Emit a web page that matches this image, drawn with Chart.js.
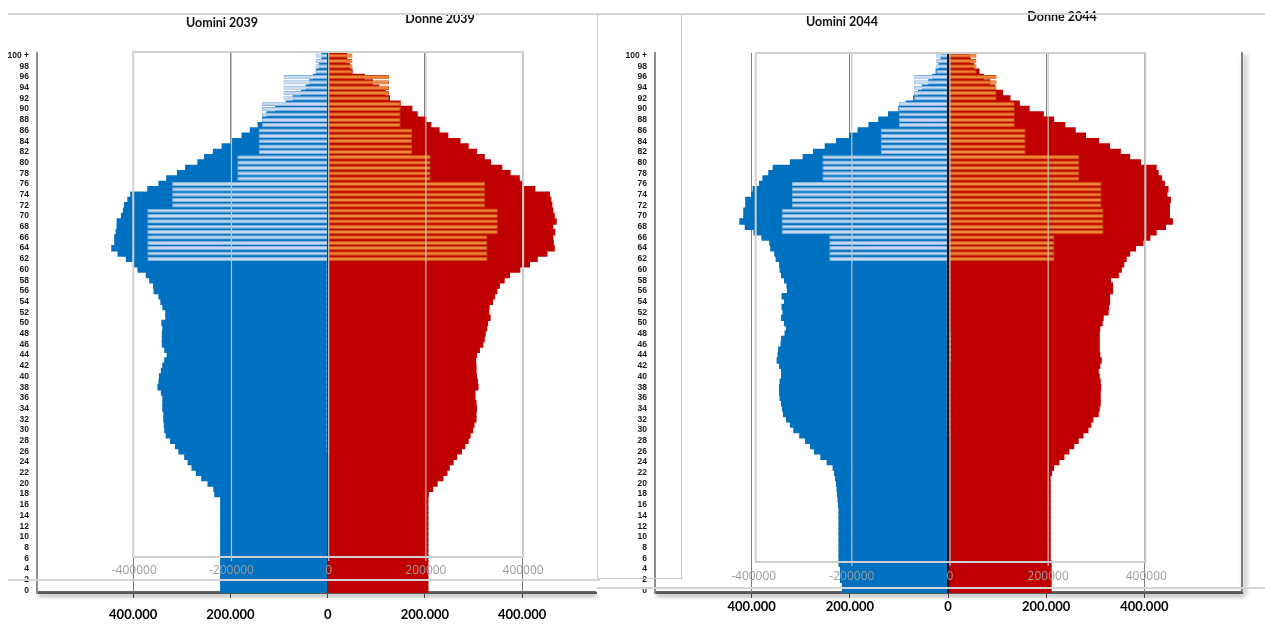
<!DOCTYPE html>
<html><head><meta charset="utf-8">
<script src="https://cdn.jsdelivr.net/npm/chart.js@4.4.1/dist/chart.umd.min.js"></script>
<style>
html,body{margin:0;padding:0;background:#fff;width:1265px;height:632px;overflow:hidden;position:relative}
.cv{position:absolute;top:0;height:632px;z-index:2}
.ln{position:absolute;background:#d4d4d4;z-index:5}
.ttl{position:absolute;font-family:Lato,'Open Sans',sans-serif;font-weight:700;font-size:12.5px;color:#111;transform:translate(-50%,-50%);white-space:nowrap;z-index:4}
.sh{position:absolute;z-index:1}
</style></head><body>
<div class="sh" style="left:37px;top:591px;width:559px;height:2px;background:#666;box-shadow:1px 3px 4px rgba(0,0,0,.55)"></div>
<div class="sh" style="left:655px;top:591px;width:588px;height:2px;background:#666;box-shadow:1px 3px 4px rgba(0,0,0,.55)"></div>
<div class="sh" style="left:1241px;top:52px;width:2px;height:541px;background:#808080;box-shadow:3px 2px 5px rgba(0,0,0,.45)"></div>
<div class="cv" style="left:0;width:597px"><canvas id="c1"></canvas></div>
<div class="cv" style="left:600px;width:665px"><canvas id="c2"></canvas></div>
<div class="ln" style="left:8px;top:13px;width:589px;height:2px"></div>
<div class="ln" style="left:597px;top:13px;width:668px;height:2px"></div>
<div class="ln" style="left:597px;top:14px;width:83px;height:564px;background:transparent;border:1.5px solid #c8c8c8;border-top:none"></div>
<div class="ln" style="left:8px;top:579px;width:592px;height:2px"></div>
<div class="ln" style="left:597px;top:587px;width:668px;height:2px"></div>
<div class="ttl" style="left:222px;top:22px">Uomini 2039</div>
<div class="ttl" style="left:440px;top:18px">Donne 2039</div>
<div class="ttl" style="left:842px;top:21px">Uomini 2044</div>
<div class="ttl" style="left:1062px;top:16px">Donne 2044</div>
<script>
const ages = ['0','1','2','3','4','5','6','7','8','9','10','11','12','13','14','15','16','17','18','19',
'20','21','22','23','24','25','26','27','28','29','30','31','32','33','34','35','36','37','38','39',
'40','41','42','43','44','45','46','47','48','49','50','51','52','53','54','55','56','57','58','59',
'60','61','62','63','64','65','66','67','68','69','70','71','72','73','74','75','76','77','78','79',
'80','81','82','83','84','85','86','87','88','89','90','91','92','93','94','95','96','97','98','99','100 +'];

const xTickValues = [-400000,-200000,0,200000,400000];
const ovTickLabels = ['-400000','-200000','0','200000','400000'];

// 2039
const uomini2039 = [
220000,220000,220000,220000,220000,220000,220000,220000,220000,220000,
220000,220000,220000,220000,220000,220000,220000,220000,232000,234000,
246000,259000,270000,279000,287000,294000,306000,313000,323000,332000,
335000,336000,337000,337000,339000,339000,339000,342000,349000,347000,
346000,342000,339000,335000,330000,335000,340000,340000,340000,339000,
341000,333000,333000,339000,343000,347000,357000,358000,366000,373000,
390000,398000,414000,431000,444000,438000,438000,435000,433000,433000,
424000,420000,418000,411000,405000,370000,347000,331000,309000,292000,
267000,253000,235000,217000,197000,176000,159000,143000,134000,125000,
107000,85000,71000,54000,44000,37000,29000,23000,17000,10000,
12000];
const donne2039 = [
206000,206000,206000,206000,206000,206000,206000,206000,206000,206000,
206000,206000,206000,206000,206000,206000,206000,206000,207000,216000,
225000,237000,245000,250000,258000,265000,275000,282000,289000,293000,
298000,301000,305000,305000,306000,305000,303000,303000,309000,308000,
306000,305000,305000,304000,306000,312000,319000,322000,324000,327000,
329000,334000,331000,332000,339000,343000,348000,353000,363000,374000,
395000,415000,431000,451000,466000,464000,463000,467000,463000,470000,
466000,463000,461000,459000,456000,426000,401000,394000,375000,358000,
335000,322000,306000,289000,272000,247000,229000,212000,202000,184000,
173000,149000,127000,118000,105000,92000,75000,50000,45000,38000,
39000];
const uominiConfronto2039 = [
0,0,0,0,0,0,0,0,0,0,
0,0,0,0,0,0,0,0,0,0,
0,0,0,0,0,0,3000,3000,3000,3000,
3000,3000,3000,3000,3000,3000,3000,3000,3000,3000,
3000,3000,3000,3000,3000,3000,3000,3000,3000,3000,
3000,3000,3000,3000,3000,3000,3000,3000,3000,3000,
3000,3000,371000,371000,371000,371000,371000,371000,371000,371000,
371000,371000,320000,320000,320000,320000,320000,186000,186000,186000,
186000,186000,142000,142000,142000,142000,142000,135000,135000,135000,
135000,135000,91000,91000,91000,91000,91000,25000,25000,25000,
25000];
const donneConfronto2039 = [
0,0,0,0,0,0,0,0,0,0,
0,0,0,0,0,0,0,0,0,0,
0,0,0,0,0,0,4000,4000,4000,4000,
4000,4000,4000,4000,4000,4000,4000,4000,4000,4000,
4000,4000,4000,4000,4000,4000,4000,4000,4000,4000,
4000,4000,4000,4000,4000,4000,4000,4000,4000,4000,
4000,4000,329000,329000,329000,329000,329000,350000,350000,350000,
350000,350000,324000,324000,324000,324000,324000,212000,212000,212000,
212000,212000,174000,174000,174000,174000,174000,150000,150000,150000,
150000,150000,126000,126000,126000,126000,126000,51000,51000,51000,
51000];

// 2044
const uomini2044 = [
215000,215000,219000,219000,219000,222000,222000,222000,222000,222000,
222000,222000,222000,222000,222000,222000,223000,224000,225000,226000,
227000,229000,231000,234000,246000,259000,272000,280000,290000,302000,
314000,321000,329000,335000,337000,339000,342000,343000,343000,342000,
339000,339000,343000,348000,346000,345000,340000,339000,332000,329000,
333000,339000,336000,338000,333000,338000,327000,328000,333000,339000,
342000,343000,350000,353000,361000,363000,379000,395000,413000,424000,
416000,416000,412000,412000,400000,397000,384000,377000,365000,356000,
321000,295000,274000,250000,227000,200000,183000,161000,141000,121000,
100000,85000,70000,60000,52000,39000,31000,24000,18000,12000,
14000];
const donne2044 = [
210000,210000,210000,210000,210000,210000,208000,208000,208000,208000,
208000,208000,208000,208000,208000,208000,208000,208000,208000,208000,
208000,208000,211000,215000,226000,236000,246000,256000,265000,275000,
285000,291000,295000,306000,308000,310000,310000,310000,311000,310000,
308000,306000,309000,312000,309000,308000,308000,308000,308000,309000,
314000,316000,326000,327000,329000,329000,335000,335000,331000,347000,
353000,358000,363000,370000,382000,397000,411000,424000,443000,457000,
451000,451000,451000,453000,446000,448000,441000,435000,428000,424000,
392000,370000,351000,329000,307000,280000,259000,238000,215000,194000,
165000,145000,126000,111000,95000,85000,72000,63000,52000,45000,
44000];
const uominiConfronto2044 = [
0,0,0,0,0,0,0,0,0,0,
0,0,0,0,0,0,0,0,0,0,
0,0,0,0,0,0,0,0,0,3000,
3000,3000,3000,3000,3000,3000,3000,3000,3000,3000,
3000,3000,3000,3000,3000,3000,3000,3000,3000,3000,
3000,3000,3000,3000,3000,3000,3000,3000,3000,3000,
3000,3000,242000,242000,242000,242000,242000,339000,339000,339000,
339000,339000,318000,318000,318000,318000,318000,256000,256000,256000,
256000,256000,137000,137000,137000,137000,137000,100000,100000,100000,
100000,100000,69000,69000,69000,69000,69000,24000,24000,24000,
24000];
const donneConfronto2044 = [
0,0,0,0,0,0,0,0,0,0,
0,0,0,0,0,0,0,0,0,0,
0,0,0,0,0,0,0,0,0,4000,
4000,4000,4000,4000,4000,4000,4000,4000,4000,4000,
4000,4000,4000,6000,6000,6000,6000,6000,6000,4000,
4000,4000,4000,4000,4000,4000,4000,4000,4000,4000,
4000,4000,217000,217000,217000,217000,217000,317000,317000,317000,
317000,317000,313000,313000,313000,313000,313000,268000,268000,268000,
268000,268000,158000,158000,158000,158000,158000,136000,136000,136000,
136000,136000,99000,99000,99000,99000,99000,58000,58000,58000,
58000];

function fmt(n){ n = Math.abs(n); return n===0 ? '0' : String(n).replace(/\B(?=(\d{3})+(?!\d))/g,'.'); }

const overlayPlugin = {
  id:'overlayBox',
  afterDatasetsDraw(chart, args, o){
    const x = chart.scales.x, ctx = chart.ctx, ca = chart.chartArea;
    ctx.save();
    const z = x.getPixelForValue(0);
    ctx.strokeStyle = o.zeroColor; ctx.lineWidth = o.zeroWidth;
    ctx.beginPath(); ctx.moveTo(z, ca.top); ctx.lineTo(z, ca.bottom); ctx.stroke();
    const L = x.getPixelForValue(xTickValues[0]) + o.dxl, R = x.getPixelForValue(xTickValues[4]) + o.dxr;
    ctx.strokeStyle = '#d0d0d0'; ctx.lineWidth = 2;
    ctx.strokeRect(L, o.top, R - L, o.bottom - o.top);
    ctx.strokeStyle = '#c4c4c4'; ctx.lineWidth = 1.2;
    [xTickValues[1], xTickValues[2], xTickValues[3]].forEach(v => {
      const px = x.getPixelForValue(v) + o.gdx;
      ctx.beginPath(); ctx.moveTo(px, o.top); ctx.lineTo(px, o.bottom + 4); ctx.stroke();
    });
    ctx.fillStyle = '#9c9c9c'; ctx.font = '12px "Open Sans", sans-serif';
    ctx.textAlign = 'center'; ctx.textBaseline = 'middle';
    ovTickLabels.forEach((t, i) => ctx.fillText(t, x.getPixelForValue(xTickValues[i]) + o.gdx, o.labelY));
    ctx.restore();
  }
};

function makePanel(id, men, women, menOv, womenOv, p){
  new Chart(document.getElementById(id), {
    type:'bar',
    data:{
      labels: ages,
      datasets:[
        {label:'Uomini', data: men.map(v => -v), backgroundColor:'#0070c0', borderWidth:0, inflateAmount:0.6,
         barPercentage:1, categoryPercentage:1, grouped:false, order:2},
        {label:'Donne', data: women, backgroundColor:'#c00000', borderWidth:0, inflateAmount:0.6,
         barPercentage:1, categoryPercentage:1, grouped:false, order:2},
        {label:'Uomini confronto', data: menOv.map(v => -v), backgroundColor:'#c3d9ef', borderColor:'#8db3da', borderWidth:1,
         barPercentage:0.78, categoryPercentage:1, grouped:false, order:1},
        {label:'Donne confronto', data: womenOv, backgroundColor:'#ee8236', borderColor:'#c85512', borderWidth:1,
         barPercentage:0.8, categoryPercentage:1, grouped:false, order:1}
      ]
    },
    options:{
      indexAxis:'y', responsive:true, maintainAspectRatio:false, animation:false, events:[],
      layout:{padding:{top:53, right:p.rightPad, left:0, bottom:0}},
      plugins:{legend:{display:false}, tooltip:{enabled:false}, overlayBox:p.ov},
      scales:{
        x:{type:'linear', min:p.min, max:p.max,
           afterBuildTicks: s => { s.ticks = xTickValues.map(v => ({value:v})); },
           afterFit: s => { s.height = 39; },
           grid:{color: c => (c.tick && c.tick.value === 0) ? 'rgba(0,0,0,0)' : '#7f7f7f', lineWidth:1, tickLength:5, tickColor:'#444', drawTicks:true},
           border:{display:true, color:'#5a5a5a', width:2},
           ticks:{autoSkip:false, maxRotation:0, padding:p.xPad, color:'#000',
                  font:{family:'Lato, "Open Sans", sans-serif', weight:'bold', size:13},
                  callback: v => fmt(v)}},
        y:{type:'category', reverse:true, offset:true,
           afterFit: s => { s.width = p.yW; },
           grid:{display:false, drawTicks:false},
           border:{display:true, color:'#8c8c8c', width:2},
           ticks:{autoSkip:false, padding:8, color:'#1a1a1a',
                  font:{family:'"Liberation Sans Narrow", "Liberation Sans", Arial, sans-serif', weight:'bold', size:8.5},
                  callback: (v, i) => (i % 2 === 0 ? ages[i] : '')}}
      }
    },
    plugins:[overlayPlugin]
  });
}

makePanel('c1', uomini2039, donne2039, uominiConfronto2039, donneConfronto2039,
  {min:-598000, max:552000, rightPad:1, yW:37, xPad:9,
   ov:{top:52, bottom:557, labelY:571, dxl:0, dxr:1, gdx:1, zeroColor:'#2a2a2a', zeroWidth:1}});
makePanel('c2', uomini2044, donne2044, uominiConfronto2044, donneConfronto2044,
  {min:-597000, max:599000, rightPad:23, yW:55, xPad:1,
   ov:{top:53, bottom:562, labelY:577, dxl:4, dxr:1, gdx:2, zeroColor:'#000', zeroWidth:1.6}});
</script>
</body></html>
